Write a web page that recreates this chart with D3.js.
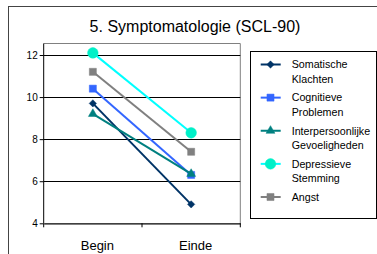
<!DOCTYPE html>
<html>
<head>
<meta charset="utf-8">
<script src="https://cdn.jsdelivr.net/npm/d3@7"></script>
<style>
  html, body { margin: 0; padding: 0; background: #fff; }
  svg { display: block; font-family: Arial, "Liberation Sans", sans-serif; }
</style>
</head>
<body>
<svg width="377" height="254"></svg>
<script>
// data
const categories = ["Begin", "Einde"];
const seriesNames = [
  ["Somatische", "Klachten"],
  ["Cognitieve", "Problemen"],
  ["Interpersoonlijke", "Gevoeligheden"],
  ["Depressieve", "Stemming"],
  ["Angst"]
];
const somatische = [9.7, 4.9];
const cognitieve = [10.4, 6.3];
const interpersoonlijke = [9.2, 6.35];
const depressieve = [12.1, 8.3];
const angst = [11.2, 7.4];
const yTicks = [4, 6, 8, 10, 12];

const diamond = d3.symbolDiamond2 || d3.symbolDiamond;
const series = [
  { name: seriesNames[0], values: somatische, line: "#003366", fill: "#003366", shape: diamond, size: 34 },
  { name: seriesNames[1], values: cognitieve, line: "#3366ff", fill: "#3366ff", shape: d3.symbolSquare, size: 50 },
  { name: seriesNames[2], values: interpersoonlijke, line: "#008080", fill: "#008080", shape: d3.symbolTriangle, size: 34 },
  { name: seriesNames[3], values: depressieve, line: "#00ffff", fill: "#00f0c8", shape: d3.symbolCircle, size: 88 },
  { name: seriesNames[4], values: angst, line: "#808080", fill: "#808080", shape: d3.symbolSquare, size: 50 }
];

const svg = d3.select("svg");

// outer chart border
svg.append("rect")
  .attr("x", 8.5).attr("y", 6.5)
  .attr("width", 400).attr("height", 300)
  .attr("fill", "none").attr("stroke", "#444").attr("stroke-width", 1);

// title
svg.append("text")
  .attr("x", 195).attr("y", 32)
  .attr("text-anchor", "middle")
  .attr("font-size", 16)
  .attr("fill", "#000")
  .text("5. Symptomatologie (SCL-90)");

// scales
const x = d3.scaleBand().domain(categories).range([43.7, 240.3]);
const y = d3.scaleLinear().domain([4, 12]).range([223.3, 55]);

const plotTop = 43.5;

// plot area frame (top/right gray)
svg.append("path")
  .attr("d", `M${x.range()[0]},${plotTop}H${x.range()[1]}V${y(4)}`)
  .attr("fill", "none").attr("stroke", "#808080").attr("stroke-width", 1);

// gridlines
svg.append("g")
  .selectAll("line")
  .data(yTicks.filter(t => t > 4))
  .join("line")
  .attr("x1", x.range()[0]).attr("x2", x.range()[1])
  .attr("y1", d => Math.round(y(d)) + 0.5).attr("y2", d => Math.round(y(d)) + 0.5)
  .attr("stroke", "#000").attr("stroke-width", 1);

// y axis
const yAxis = svg.append("g")
  .attr("transform", `translate(${x.range()[0]},0)`)
  .call(d3.axisLeft(y).tickValues(yTicks).tickSize(4).tickPadding(2).tickFormat(d3.format("d")));
yAxis.select(".domain").attr("stroke", "#000").attr("d", `M0,${plotTop}V${y(4)}`);
yAxis.selectAll(".tick line").attr("stroke", "#000");
yAxis.selectAll(".tick text").attr("font-size", 10).attr("fill", "#000")
  .attr("font-family", "Arial, 'Liberation Sans', sans-serif");

// x axis
const xAxis = svg.append("g")
  .attr("transform", `translate(0,${y(4)})`)
  .call(d3.axisBottom(x).tickSize(0).tickPadding(17.5));
xAxis.select(".domain").attr("stroke", "#000").attr("stroke-width", 1.2);
xAxis.selectAll(".tick text")
  .attr("font-size", 13).attr("fill", "#000")
  .attr("dx", 4.5)
  .attr("font-family", "Arial, 'Liberation Sans', sans-serif");
// category boundary ticks
const bounds = [x.range()[0], x(categories[1]), x.range()[1]];
xAxis.selectAll(".bound")
  .data(bounds)
  .join("line")
  .attr("class", "bound")
  .attr("x1", d => d).attr("x2", d => d)
  .attr("y1", 0).attr("y2", 4)
  .attr("stroke", "#000");

// lines and markers
const line = d3.line()
  .x((d, i) => x(categories[i]) + x.bandwidth() / 2)
  .y(d => y(d));

const sg = svg.append("g").selectAll("g").data(series).join("g");
sg.append("path")
  .attr("d", d => line(d.values))
  .attr("fill", "none")
  .attr("stroke", d => d.line)
  .attr("stroke-width", 2);
sg.selectAll(".m")
  .data(d => d.values.map((v, i) => ({ v, i, s: d })))
  .join("path")
  .attr("class", "m")
  .attr("transform", d => `translate(${x(categories[d.i]) + x.bandwidth() / 2},${y(d.v)})`)
  .attr("d", d => d3.symbol(d.s.shape, d.s.size)())
  .attr("fill", d => d.s.fill)
  .attr("stroke", d => d.s.fill)
  .attr("stroke-width", 0.5);

// legend
const legend = svg.append("g");
legend.append("rect")
  .attr("x", 250.5).attr("y", 51.5)
  .attr("width", 126).attr("height", 167)
  .attr("fill", "#fff").attr("stroke", "#000").attr("stroke-width", 1);

const rowY = d3.scaleLinear().domain([0, 4]).range([64.5, 197]);
const items = legend.selectAll(".item").data(series).join("g")
  .attr("class", "item")
  .attr("transform", (d, i) => `translate(0,${rowY(i)})`);
items.append("line")
  .attr("x1", 260.7).attr("x2", 280.7)
  .attr("stroke", d => d.line).attr("stroke-width", 2);
items.append("path")
  .attr("transform", "translate(270.5,0)")
  .attr("d", d => d3.symbol(d.shape, d.size)())
  .attr("fill", d => d.fill)
  .attr("stroke", d => d.fill)
  .attr("stroke-width", 0.5);
items.each(function(d) {
  const t = d3.select(this).append("text")
    .attr("x", 291.7).attr("y", 0)
    .attr("font-size", 10.7)
    .attr("fill", "#000");
  d.name.forEach((ln, k) => {
    t.append("tspan").attr("x", 291.7).attr("y", 3.8 + k * 14.8).text(ln);
  });
});
</script>
</body>
</html>
